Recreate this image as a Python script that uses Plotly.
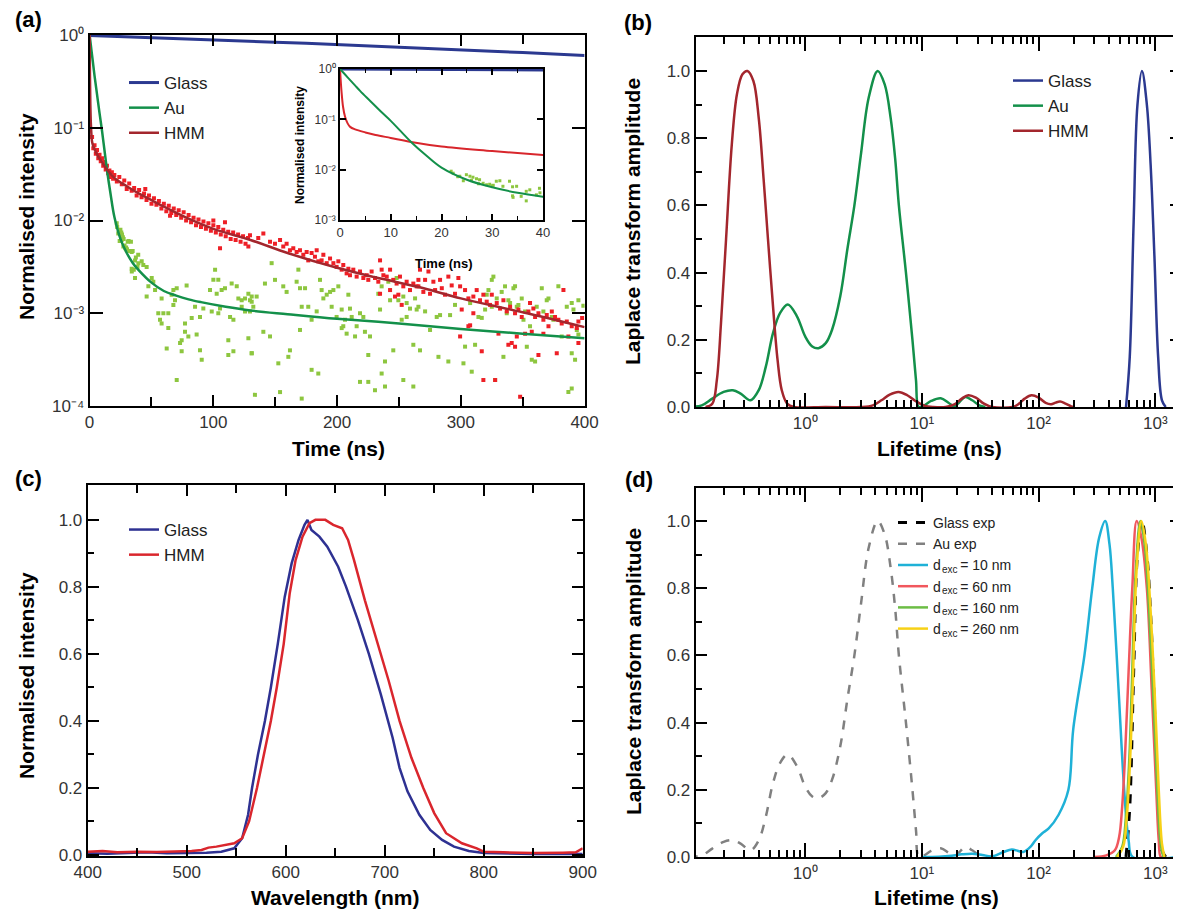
import plotly.graph_objects as go

W, H = 1181, 916
OFF = 8  # default page body margin
WF, HF = W - OFF, H - OFF
FONT = "Liberation Sans, Arial, sans-serif"

# ---------------- Panel (a): time-resolved decays (log10 of normalised intensity) ----------------
glass_fit_t = [0, 25, 50, 75, 100, 125, 150, 175, 200, 225, 250, 275, 300, 325, 350, 375, 400]
glass_fit_log = [-0.005, -0.016, -0.027, -0.039, -0.05, -0.063, -0.077, -0.09, -0.103, -0.117,
                 -0.131, -0.146, -0.16, -0.175, -0.19, -0.205, -0.22]

au_fit_t = [0, 1, 2, 3, 4, 6, 8, 10, 12, 14, 17, 20, 25, 30, 35, 40, 50, 60, 70, 80, 90,
            110, 130, 160, 200, 250, 300, 350, 400]
au_fit_log = [0, -0.11, -0.22, -0.33, -0.44, -0.64, -0.84, -1.03, -1.24, -1.45, -1.72, -1.96,
              -2.2, -2.35, -2.46, -2.54, -2.67, -2.76, -2.81, -2.85, -2.88, -2.93, -2.97, -3.01,
              -3.06, -3.11, -3.17, -3.22, -3.27]

hmm_fit_t = [0, 0.3, 0.6, 1, 1.5, 2, 3, 5, 7, 10, 14, 20, 30, 40, 50, 60, 80, 100, 130, 160,
             200, 230, 270, 300, 350, 400]
hmm_fit_log = [0, -0.45, -0.75, -0.95, -1.08, -1.15, -1.2, -1.26, -1.31, -1.37, -1.45, -1.54,
               -1.63, -1.71, -1.78, -1.85, -1.98, -2.09, -2.21, -2.35, -2.51, -2.61, -2.73,
               -2.84, -2.99, -3.15]

au_points = [
    (22.3, -2.07), (23.6, -2.13), (24.3, -2.22), (24.9, -2.1), (25.6, -2.13), (26.2, -2.15),
    (26.9, -2.18), (27.5, -2.2), (28.2, -2.27), (28.9, -2.3), (29.5, -2.29), (30.2, -2.31),
    (30.8, -2.23), (31.5, -2.22), (32.1, -2.33), (33.4, -2.23), (34.1, -2.55), (34.8, -2.33),
    (35.7, -2.53), (36.7, -2.62), (37.4, -2.4), (38.7, -2.5), (39.3, -2.37),
    (21.9, -2.03), (23.2, -2.14), (25.9, -2.21), (27.3, -2.28), (30, -2.32), (34, -2.34),
    (36.7, -2.43), (39.4, -2.46), (34, -2.52), (42.1, -2.44), (43.4, -2.48), (46.1, -2.5),
    (50.2, -2.62), (51.5, -2.66), (47.5, -2.71), (46.1, -2.82), (52.9, -2.75), (58.2, -2.84),
    (66.3, -2.8), (67.7, -2.75), (70.4, -2.73), (78.4, -2.7), (69, -2.86), (67.7, -2.91),
    (85.2, -2.93), (91.9, -2.95), (97.3, -2.75), (100, -2.64), (101.4, -2.53), (104, -2.64),
    (102.7, -2.79), (106.7, -2.75), (109.4, -2.73), (104, -3.0), (98.7, -2.98), (89.2, -3.04),
    (82.5, -3.05), (77.1, -3.11), (63.6, -3.0), (59.6, -3.0), (55.5, -3.0), (56.9, -3.07),
    (58.2, -3.11), (63.6, -3.16), (77.1, -3.2), (74.4, -3.29), (73.1, -3.32), (79.8, -3.25),
    (86.5, -3.23), (89.2, -3.4), (90.6, -3.5), (74.4, -3.41), (62.3, -3.38), (70.4, -3.72),
    (112.1, -3.29), (114.8, -2.68), (118.9, -2.71), (120.2, -2.84), (122.9, -2.86),
    (125.6, -2.84), (128.3, -2.79), (131, -2.82), (131, -2.875), (122.9, -2.93), (113.5, -3.04),
    (116.2, -3.07), (128.3, -3.27), (116.2, -3.41), (112.1, -3.45), (131, -3.43), (125.6, -2.98),
    (129.6, -2.98), (105.4, -2.95),
    (147.1, -2.46), (149.8, -2.64), (141.7, -2.68), (135, -2.82), (132.3, -2.93), (129.6, -2.86),
    (131, -3.43), (140.4, -3.2), (145.8, -3.25), (156.5, -2.71), (159.2, -2.77), (167.3, -2.66),
    (168.7, -2.53), (170, -2.73), (174.1, -2.73), (171.4, -2.93), (176.7, -2.93), (179.4, -3.07),
    (183.5, -2.98), (186.2, -2.64), (187.5, -2.75), (188.9, -2.84), (191.6, -2.8), (194.3, -2.77),
    (197, -2.75), (201, -2.71), (195.6, -2.93), (199.6, -3.04), (203.7, -2.96), (206.4, -3.07),
    (209.1, -2.8), (210.4, -2.95), (205, -3.14), (211.8, -3.04), (218.5, -3.0), (221.2, -3.04),
    (215.8, -3.14), (214.5, -3.25), (207.7, -3.22), (203.7, -3.16), (222.5, -3.2), (226.6, -3.25),
    (225.2, -3.45), (233.3, -2.79), (236, -2.71), (234.7, -2.96), (241.4, -2.66), (242.8, -2.86),
    (248.1, -2.62), (249.5, -2.86), (253.5, -2.82), (256.2, -2.89), (252.2, -3.07), (258.9, -2.95),
    (264.3, -2.96), (261.6, -3.34), (245.4, -3.4), (238.7, -3.52), (256.2, -3.04), (170, -3.18),
    (161.9, -3.4), (160.6, -3.47), (152.5, -3.54), (179.4, -3.61), (184.8, -3.65), (153.9, -3.85),
    (171.4, -3.92), (133.6, -3.88), (218.5, -3.74), (225.2, -3.74), (236, -3.65), (230.6, -3.83),
    (238.7, -3.79), (253.5, -3.72), (261.6, -3.79),
    (263, -2.84), (265.7, -2.93), (267, -3.4), (271.1, -2.98), (275.1, -3.18), (280.5, -3.04),
    (281.9, -3.47), (283.2, -3.02), (289.9, -3.52), (291.3, -3.02), (295.3, -2.91), (302.1, -3.54),
    (303.4, -3.36), (307.5, -2.89), (308.8, -3.63), (311.5, -3.34), (314.2, -3.04), (316.9, -3.05),
    (319.6, -2.96), (320.9, -2.8), (322.3, -2.75), (325, -2.64), (326.3, -2.605), (327.7, -3.72),
    (325, -2.93), (329, -2.84), (333, -2.77), (334.4, -3.47), (335.7, -2.71), (337.1, -3.0),
    (338.4, -2.86), (339.8, -2.89), (342.5, -2.73), (343.8, -2.71), (345.2, -2.93), (346.5, -2.91),
    (349.2, -2.84), (350.6, -3.07), (351.9, -2.98), (353.3, -3.36), (355.9, -3.14), (357.3, -3.5),
    (360, -3.52), (361.3, -2.93), (365.4, -2.73), (366.7, -2.98), (369.4, -2.86), (370.8, -2.84),
    (373.5, -3.04), (374.8, -3.07), (378.8, -2.71), (381.5, -3.25), (385.6, -2.93), (389.6, -2.89),
    (389.6, -3.43), (391, -2.96), (392.3, -3.5), (393.7, -3.18), (395, -3.23), (386.9, -3.85),
    (389.6, -3.81), (395, -2.86), (399, -2.92),
]

hmm_points = [
    (2, -1.10), (3, -1.22), (4, -1.19), (5, -1.28), (6, -1.24), (7, -1.33), (8, -1.29),
    (9, -1.36), (10, -1.33), (11, -1.41), (12, -1.37), (13, -1.45), (14, -1.41), (15, -1.49),
    (16, -1.46), (17, -1.53), (18, -1.48), (19, -1.55), (20, -1.51), (22, -1.58), (24, -1.53),
    (26, -1.61), (28, -1.57), (30, -1.66), (32, -1.6), (34, -1.68), (36, -1.65), (38, -1.73),
    (40, -1.67), (42, -1.75), (44, -1.71), (46, -1.78), (48, -1.73), (50, -1.82), (52, -1.76),
    (54, -1.83), (56, -1.79), (58, -1.87), (60, -1.82), (62, -1.9), (64, -1.84), (66, -1.92),
    (68, -1.87), (70, -1.94), (72, -1.89), (74, -1.97), (76, -1.91), (78, -2.0), (80, -1.94),
    (82, -2.02), (84, -1.97), (86, -2.05), (88, -1.99), (90, -2.07), (92, -2.01), (94, -2.09),
    (96, -2.03), (98, -2.11), (100, -2.05), (102, -2.13), (104, -2.07), (106, -2.15),
    (108, -2.1), (110, -2.17), (112, -2.12), (114, -2.2), (116, -2.13), (118, -2.21),
    (120, -2.15), (122, -2.23), (124, -2.17), (126, -2.25), (128, -2.19), (105.4, -2.30),
    (128.3, -2.28), (109.4, -2.02), (100, -2.0), (45, -1.66), (65, -1.95),
    (129.6, -2.16), (140.4, -2.14), (136.3, -2.19), (145.8, -2.23), (149.8, -2.25), (153.9, -2.21),
    (156.5, -2.28), (159.2, -2.25), (161.9, -2.32), (164.6, -2.3), (167.3, -2.34), (170, -2.32),
    (172.7, -2.37), (175.4, -2.34), (176.7, -2.43), (179.4, -2.35), (182.1, -2.39), (183.5, -2.32),
    (184.8, -2.44), (187.5, -2.43), (188.9, -2.37), (191.6, -2.46), (194.3, -2.41), (197, -2.46),
    (199.6, -2.5), (201, -2.44), (203.7, -2.53), (205, -2.48), (207.7, -2.57), (209.1, -2.52),
    (210.4, -2.59), (213.1, -2.53), (215.8, -2.605), (218.5, -2.55), (221.2, -2.62), (223.9, -2.59),
    (225.2, -2.64), (227.9, -2.55), (230.6, -2.62), (233.3, -2.66), (234.7, -2.43), (236, -2.53),
    (237.4, -2.59), (240.1, -2.605), (242.8, -2.53), (245.4, -2.64), (248.1, -2.68), (250.8, -2.605),
    (252.2, -2.91), (253.5, -2.71), (256.2, -2.66), (258.9, -2.75), (261.6, -2.68), (264.3, -2.71),
    (265.7, -2.64), (234.7, -2.79), (242.8, -2.75), (246.8, -2.82), (249.5, -2.8),
    (267, -2.53), (273.8, -2.55), (271.1, -2.64), (277.8, -2.66), (283.2, -2.64), (284.6, -2.73),
    (289.9, -2.605), (292.6, -2.70), (298, -2.62), (299.4, -2.71), (265.7, -2.71), (269.7, -2.77),
    (275.1, -2.79), (279.2, -2.75), (287.2, -2.8), (295.3, -2.79), (303.4, -2.75), (306.1, -2.84),
    (310.1, -2.82), (312.8, -2.75), (315.5, -2.86), (318.2, -2.8), (320.9, -2.875), (323.6, -2.91),
    (325, -2.8), (329, -2.89), (331.7, -2.95), (334.4, -2.86), (337.1, -2.98), (339.8, -2.93),
    (343.8, -3.0), (346.5, -2.96), (349.2, -3.04), (354.6, -2.98), (355.9, -2.89), (358.6, -2.95),
    (360, -3.04), (362.7, -3.0), (366.7, -3.07), (369.4, -3.02), (373.5, -2.98), (376.1, -3.04),
    (378.8, -3.07), (381.5, -3.11), (382.9, -2.75), (385.6, -3.09), (389.6, -3.14), (393.7, -3.16),
    (395, -3.09), (307.5, -3.13), (306.1, -3.14), (316.9, -3.41), (318.2, -3.72), (327.7, -3.72),
    (338.4, -3.34), (341.1, -3.32), (343.8, -3.36), (347.9, -3.9), (362.7, -3.45), (377.5, -3.43),
    (330.4, -3.22), (345.2, -3.25), (351.9, -3.22), (357.3, -3.2), (366.7, -3.22), (370.8, -3.14),
    (386.9, -3.25), (395, -3.32), (300.7, -2.96), (310.1, -3.0), (299.4, -3.25), (398, -3.05),
]

# ---------------- Panel (b)/(d): Laplace transform amplitudes ----------------
glass_b_tau = [561, 604, 652, 703, 768, 846, 912, 982, 1057, 1140, 1228]
glass_b_amp = [0, 0.15, 0.55, 0.9, 1.0, 0.9, 0.72, 0.45, 0.15, 0.02, 0]

au_b_tau = [0.10, 0.13, 0.16, 0.2, 0.24, 0.28, 0.34, 0.40, 0.46, 0.53, 0.61, 0.71, 0.85, 1.0,
            1.15, 1.3, 1.5, 1.7, 2.0, 2.3, 2.64, 3.0, 3.5, 4.18, 4.8, 5.4, 5.9, 6.35, 7.3, 8.3,
            8.9, 9.4, 10.5, 12, 14.5, 17, 19, 21, 23.5, 27, 31, 35]
au_b_amp = [0, 0.005, 0.025, 0.045, 0.05, 0.04, 0.02, 0.05, 0.12, 0.22, 0.28, 0.305, 0.27, 0.21,
            0.18, 0.175, 0.19, 0.23, 0.33, 0.47, 0.6, 0.75, 0.92, 1.0, 0.96, 0.86, 0.74, 0.6, 0.4,
            0.2, 0.08, 0.0, 0.005, 0.018, 0.026, 0.012, 0.002, 0.015, 0.03, 0.02, 0.005, 0]

hmm_b_tau = [0.14, 0.16, 0.175, 0.19, 0.21, 0.235, 0.26, 0.29, 0.32, 0.36, 0.40, 0.44, 0.48,
             0.53, 0.58, 0.63, 0.70, 0.80, 1.5, 3.0, 3.8, 4.5, 5.3, 6.3, 7.5, 8.8, 10.5, 12.5,
             16, 19, 22, 25, 29, 34, 40, 60, 68, 76, 87, 100, 115, 128, 140, 153, 170, 190, 200]
hmm_b_amp = [0, 0.01, 0.08, 0.25, 0.5, 0.78, 0.93, 0.99, 1.0, 0.97, 0.86, 0.68, 0.5, 0.3, 0.14,
             0.05, 0.01, 0, 0, 0, 0.005, 0.02, 0.037, 0.045, 0.035, 0.018, 0.004, 0, 0, 0.008,
             0.025, 0.035, 0.028, 0.01, 0, 0, 0.01, 0.025, 0.035, 0.028, 0.012, 0.008, 0.013,
             0.016, 0.01, 0.002, 0]

d10_tau = [10, 14, 18, 22, 27, 33, 40, 50, 59, 67, 74, 85, 94, 107, 122, 148, 180, 198, 247,
           288, 330, 372, 405, 432, 484, 541, 590, 640, 1500]
d10_amp = [0, 0.001, 0.004, 0.008, 0.01, 0.006, 0.002, 0.015, 0.022, 0.018, 0.015, 0.03, 0.05,
           0.07, 0.085, 0.125, 0.2, 0.38, 0.6, 0.8, 0.95, 1.0, 0.93, 0.8, 0.5, 0.2, 0.05, 0, 0]
d60_tau = [300, 380, 450, 490, 520, 550, 590, 635, 692, 760, 846, 931, 1018, 1070, 1114, 1200]
d60_amp = [0, 0.005, 0.02, 0.06, 0.15, 0.3, 0.55, 0.8, 1.0, 0.95, 0.8, 0.5, 0.2, 0.05, 0, 0]
d160_tau = [460, 520, 560, 600, 628, 680, 745, 810, 880, 960, 1040, 1110, 1170]
d160_amp = [0, 0.03, 0.12, 0.3, 0.5, 0.85, 1.0, 0.93, 0.75, 0.48, 0.2, 0.04, 0]
d260_tau = [470, 530, 570, 610, 640, 690, 760, 830, 905, 990, 1070, 1140, 1200]
d260_amp = [0, 0.03, 0.12, 0.3, 0.5, 0.85, 1.0, 0.93, 0.75, 0.48, 0.2, 0.04, 0]

# ---------------- Panel (c): emission spectra ----------------
glass_c_wl = [400, 420, 440, 460, 480, 500, 520, 535, 548, 556, 562, 566, 572, 579, 585, 592,
              599, 606, 613, 619, 622, 626, 634, 642, 653, 661, 673, 684, 696, 708, 715, 723,
              735, 746, 758, 770, 785, 800, 820, 850, 880, 900]
glass_c_int = [0.005, 0.004, 0.006, 0.008, 0.005, 0.006, 0.007, 0.01, 0.02, 0.05, 0.12, 0.2,
               0.3, 0.4, 0.5, 0.63, 0.77, 0.87, 0.94, 0.985, 1.0, 0.97, 0.95, 0.92, 0.86, 0.8,
               0.7, 0.6, 0.48, 0.35, 0.26, 0.19, 0.12, 0.075, 0.045, 0.025, 0.012, 0.006, 0.004,
               0.003, 0.004, 0.003]
hmm_c_wl = [400, 415, 430, 450, 470, 490, 505, 515, 522, 530, 540, 548, 556, 563, 571, 578,
            585, 591, 598, 604, 610, 617, 624, 630, 640, 648, 657, 663, 669, 680, 692, 704, 715,
            727, 739, 750, 762, 778, 793, 800, 820, 850, 880, 893, 900]
hmm_c_int = [0.01, 0.012, 0.008, 0.01, 0.009, 0.01, 0.012, 0.015, 0.022, 0.025, 0.03, 0.035,
             0.05, 0.1, 0.2, 0.3, 0.4, 0.5, 0.63, 0.78, 0.88, 0.95, 0.99, 1.0, 1.0, 0.985,
             0.975, 0.94, 0.88, 0.76, 0.64, 0.52, 0.4, 0.29, 0.2, 0.125, 0.065, 0.035, 0.02,
             0.01, 0.008, 0.006, 0.007, 0.008, 0.02]

# tick label texts (unicode superscripts)
dec_text_a = ["10\u207b\u2074", "10\u207b\u00b3", "10\u207b\u00b2", "10\u207b\u00b9", "10\u2070"]
dec_text_i = ["10\u207b\u00b3", "10\u207b\u00b2", "10\u207b\u00b9", "10\u2070"]
lt_text = ["10\u207b\u00b9", "10\u2070", "10\u00b9", "10\u00b2", "10\u00b3"]
d_labels = ["10 nm", "60 nm", "160 nm", "260 nm"]

# ---------------- colours ----------------
C_GLASS = "#2B3990"
C_AU = "#13904A"
C_HMM = "#A3262D"
C_AU_PT = "#8DC63F"
C_HMM_PT = "#EE1F26"
C_GLASS_C = "#2E3192"
C_HMM_C = "#DA262D"
C_D10 = "#1FB1D7"
C_D60 = "#F1575D"
C_D160 = "#6CBD45"
C_D260 = "#F7D117"


def p10(vals):
    return [10 ** v for v in vals]


def xd(a, b):
    return [(a - OFF) / WF, (b - OFF) / WF]


def yd(top, bottom):
    return [1 - (bottom - OFF) / HF, 1 - (top - OFF) / HF]


fig = go.Figure()

# ---- (a) main ----
fig.add_trace(go.Scatter(x=[p[0] for p in au_points], y=p10([p[1] for p in au_points]),
                         mode="markers", marker=dict(symbol="square", size=4, color=C_AU_PT),
                         showlegend=False, xaxis="x", yaxis="y"))
fig.add_trace(go.Scatter(x=[p[0] for p in hmm_points], y=p10([p[1] for p in hmm_points]),
                         mode="markers", marker=dict(symbol="square", size=4, color=C_HMM_PT),
                         showlegend=False, xaxis="x", yaxis="y"))
fig.add_trace(go.Scatter(x=glass_fit_t, y=p10(glass_fit_log), mode="lines", name="Glass",
                         line=dict(color=C_GLASS, width=3), legend="legend", xaxis="x", yaxis="y"))
fig.add_trace(go.Scatter(x=au_fit_t, y=p10(au_fit_log), mode="lines", name="Au",
                         line=dict(color=C_AU, width=2.5, shape="spline"),
                         legend="legend", xaxis="x", yaxis="y"))
fig.add_trace(go.Scatter(x=hmm_fit_t, y=p10(hmm_fit_log), mode="lines", name="HMM",
                         line=dict(color=C_HMM, width=2.5, shape="spline"),
                         legend="legend", xaxis="x", yaxis="y"))

# ---- (a) inset ----
fig.add_trace(go.Scatter(x=[p[0] for p in au_points], y=p10([p[1] for p in au_points]),
                         mode="markers", marker=dict(symbol="square", size=3, color=C_AU_PT),
                         showlegend=False, xaxis="x5", yaxis="y5"))
fig.add_trace(go.Scatter(x=glass_fit_t, y=p10(glass_fit_log), mode="lines", showlegend=False,
                         line=dict(color=C_GLASS, width=2.5), xaxis="x5", yaxis="y5"))
fig.add_trace(go.Scatter(x=hmm_fit_t, y=p10(hmm_fit_log), mode="lines", showlegend=False,
                         line=dict(color="#D8262C", width=2, shape="spline"),
                         xaxis="x5", yaxis="y5"))
fig.add_trace(go.Scatter(x=au_fit_t, y=p10(au_fit_log), mode="lines", showlegend=False,
                         line=dict(color=C_AU, width=2, shape="spline"),
                         xaxis="x5", yaxis="y5"))

# ---- (b) ----
fig.add_trace(go.Scatter(x=glass_b_tau, y=glass_b_amp, mode="lines", name="Glass",
                         line=dict(color=C_GLASS, width=2.5, shape="spline"), legend="legend2",
                         xaxis="x2", yaxis="y2"))
fig.add_trace(go.Scatter(x=au_b_tau, y=au_b_amp, mode="lines", name="Au",
                         line=dict(color=C_AU, width=2.5, shape="spline"), legend="legend2",
                         xaxis="x2", yaxis="y2"))
fig.add_trace(go.Scatter(x=hmm_b_tau, y=hmm_b_amp, mode="lines", name="HMM",
                         line=dict(color=C_HMM, width=2.5, shape="spline"), legend="legend2",
                         xaxis="x2", yaxis="y2"))

# ---- (c) ----
fig.add_trace(go.Scatter(x=glass_c_wl, y=glass_c_int, mode="lines", name="Glass",
                         line=dict(color=C_GLASS_C, width=2.5), legend="legend3",
                         xaxis="x3", yaxis="y3"))
fig.add_trace(go.Scatter(x=hmm_c_wl, y=hmm_c_int, mode="lines", name="HMM",
                         line=dict(color=C_HMM_C, width=2.5), legend="legend3",
                         xaxis="x3", yaxis="y3"))

# ---- (d) ---- (added in legend order)
GAP = "\u00a0" * 4  # room for the 'exc' subscript label
fig.add_trace(go.Scatter(x=glass_b_tau, y=glass_b_amp, mode="lines", name="Glass exp",
                         line=dict(color="black", width=3, dash="dash", shape="spline"),
                         legend="legend4", xaxis="x4", yaxis="y4"))
fig.add_trace(go.Scatter(x=au_b_tau, y=au_b_amp, mode="lines", name="Au exp",
                         line=dict(color="#808080", width=2.5, dash="dash", shape="spline"),
                         legend="legend4", xaxis="x4", yaxis="y4"))
for tx, ty, col, lab in [(d10_tau, d10_amp, C_D10, d_labels[0]),
                         (d60_tau, d60_amp, C_D60, d_labels[1]),
                         (d160_tau, d160_amp, C_D160, d_labels[2]),
                         (d260_tau, d260_amp, C_D260, d_labels[3])]:
    fig.add_trace(go.Scatter(x=tx, y=ty, mode="lines", name="d" + GAP + " = " + lab,
                             line=dict(color=col, width=2.5, shape="spline"),
                             legend="legend4", xaxis="x4", yaxis="y4"))

# ---------------- axes ----------------
TICKFONT = dict(family=FONT, size=17, color="#333333")


def ax(**kw):
    base = dict(showline=True, linewidth=2, linecolor="black", mirror="ticks",
                ticks="inside", ticklen=11, tickwidth=2, tickcolor="black", showgrid=False,
                zeroline=False, tickfont=TICKFONT)
    base.update(kw)
    return base


def minor(vals, length, width):
    return dict(ticks="inside", ticklen=length, tickwidth=width, tickcolor="black",
                tickmode="array", tickvals=vals, showgrid=False)


amp_ticks = [0, 0.2, 0.4, 0.6, 0.8, 1.0]
amp_text = ["0.0", "0.2", "0.4", "0.6", "0.8", "1.0"]
amp_minor = [0.1, 0.3, 0.5, 0.7, 0.9]
lt_ticks = [0.1, 1, 10, 100, 1000]
lt_minor = [k * 10 ** e for e in range(-1, 4) for k in range(2, 10) if k * 10 ** e < 1600]

layout = dict(
    template="none",
    width=WF, height=HF, margin=dict(l=0, r=0, t=0, b=0, pad=0),
    paper_bgcolor="white", plot_bgcolor="white",
    font=dict(family=FONT, color="black"),
    xaxis=ax(domain=xd(89.6, 584.6), range=[0, 400], anchor="y",
             tickvals=[0, 100, 200, 300, 400], ticktext=["0", "100", "200", "300", "400"],
             minor=minor([50, 150, 250, 350], 9, 2)),
    yaxis=ax(domain=yd(35, 406), type="log", range=[-4, 0], anchor="x",
             tickvals=[1e-4, 1e-3, 1e-2, 1e-1, 1], ticktext=dec_text_a, ticklen=13),
    xaxis2=ax(domain=xd(695.7, 1181), type="log", range=[-0.938, 3.22], anchor="y2",
              tickvals=lt_ticks, ticktext=lt_text, ticklen=14, minor=minor(lt_minor, 7, 1.5)),
    yaxis2=ax(domain=yd(37, 407), range=[0, 1.101], anchor="x2", tickvals=amp_ticks,
              ticktext=amp_text, minor=minor(amp_minor, 6, 1.5)),
    xaxis3=ax(domain=xd(87.7, 582.7), range=[400, 900], anchor="y3",
              tickvals=[400, 500, 600, 700, 800, 900],
              ticktext=["400", "500", "600", "700", "800", "900"],
              minor=minor([450, 550, 650, 750, 850], 8, 2)),
    yaxis3=ax(domain=yd(485, 856), range=[-0.003, 1.104], anchor="x3", tickvals=amp_ticks,
              ticktext=amp_text, minor=minor(amp_minor, 6, 1.5)),
    xaxis4=ax(domain=xd(695.7, 1181), type="log", range=[-0.938, 3.22], anchor="y4",
              tickvals=lt_ticks, ticktext=lt_text, ticklen=14, minor=minor(lt_minor, 7, 1.5)),
    yaxis4=ax(domain=yd(488, 857), range=[0, 1.098], anchor="x4", tickvals=amp_ticks,
              ticktext=amp_text, minor=minor(amp_minor, 6, 1.5)),
    xaxis5=ax(domain=xd(340, 543), range=[0, 40], anchor="y5", linewidth=1.5,
              tickvals=[0, 10, 20, 30, 40], ticktext=["0", "10", "20", "30", "40"],
              ticklen=6, tickwidth=1.5,
              tickfont=dict(family=FONT, size=13, color="#333333"),
              minor=minor([5, 15, 25, 35], 4, 1.2)),
    yaxis5=ax(domain=yd(69, 220), type="log", range=[-3, 0], anchor="x5", linewidth=1.5,
              tickvals=[1e-3, 1e-2, 1e-1, 1], ticktext=dec_text_i,
              ticklen=6, tickwidth=1.5, tickfont=dict(family=FONT, size=12, color="#333333")),
)

LEG = dict(bgcolor="rgba(0,0,0,0)", borderwidth=0, xanchor="left", yanchor="top")


def lx(px):
    return (px - OFF) / WF


def ly(px):
    return 1 - (px - OFF) / HF


layout["legend"] = dict(LEG, x=lx(124), y=ly(65), font=dict(family=FONT, size=17, color="#222"))
layout["legend2"] = dict(LEG, x=lx(1008), y=ly(63), font=dict(family=FONT, size=17, color="#222"))
layout["legend3"] = dict(LEG, x=lx(124), y=ly(512), font=dict(family=FONT, size=17, color="#222"))
layout["legend4"] = dict(LEG, x=lx(893), y=ly(507), font=dict(family=FONT, size=14, color="#222"))

fig.update_layout(**layout)


def label(text, x, y, size=21, angle=0, color="black"):
    fig.add_annotation(text=text, x=lx(x), y=ly(y), xref="paper", yref="paper",
                       showarrow=False, textangle=angle, xanchor="center", yanchor="middle",
                       font=dict(family=FONT, size=size, color=color))


label("<b>(a)</b>", 28, 20, 22)
label("<b>(b)</b>", 638, 23, 22)
label("<b>(c)</b>", 28, 478, 22)
label("<b>(d)</b>", 639, 479, 22)

label("<b>Normalised intensity</b>", 27, 217, 21, -90)
label("<b>Time (ns)</b>", 338, 448, 21)
label("<b>Laplace transform amplitude</b>", 633, 222, 21, -90)
label("<b>Lifetime (ns)</b>", 939, 448, 21)
label("<b>Normalised intensity</b>", 26, 676, 21, -90)
label("<b>Wavelength (nm)</b>", 335, 897, 21)
label("<b>Laplace transform amplitude</b>", 633, 672, 21, -90)
label("<b>Lifetime (ns)</b>", 936, 897, 21)
label("<b>Normalised intensity</b>", 300, 145, 12, -90)
label("<b>Time (ns)</b>", 444, 263, 13)

# 'exc' subscripts of the d_exc legend entries
for i in range(4):
    label("exc", 950, 569.5 + 21.2 * i, 10, 0, "#222")

fig.write_html("out.html")
